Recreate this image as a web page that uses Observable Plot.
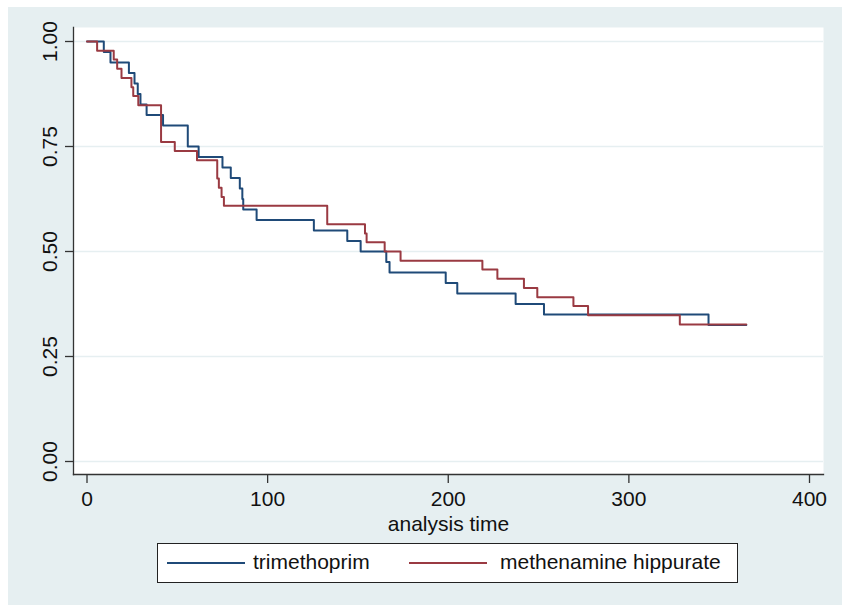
<!DOCTYPE html>
<html>
<head>
<meta charset="utf-8">
<script src="https://cdn.jsdelivr.net/npm/d3@7"></script>
<script src="https://cdn.jsdelivr.net/npm/@observablehq/plot@0.6"></script>
<style>
  html, body { margin: 0; padding: 0; background: #fff; }
  #wrap {
    position: relative; width: 842px; height: 605px; overflow: hidden;
    background: #e6eff1; box-shadow: inset 8px 7px 0 #fff;
    font-family: "Liberation Sans", Arial, sans-serif;
  }
  #wrap svg { display: block; background: transparent; }
  #legend {
    position: absolute; left: 157px; top: 543px; width: 581px; height: 40px;
    box-sizing: border-box; border: 1.5px solid #222; background: #fff;
    font-size: 21px; color: #111;
  }
  #legend .sw { position: absolute; top: 18px; height: 2px; }
  #legend .lb { position: absolute; top: 6px; line-height: 24px; white-space: nowrap; }
</style>
</head>
<body>
<div id="wrap"><div id="legend"></div></div>
<script>
// Kaplan–Meier survival estimates
const seriesNames = ["trimethoprim", "methenamine hippurate"];
const seriesColors = ["#1f4a78", "#9a3a42"];

const trimTime = [0, 9.3, 13.0, 23.2, 26.3, 28.1, 29.6, 33.0, 42.1, 55.8, 61.8, 75.0, 79.6, 84.6, 86.0, 86.5, 93.9, 125.6, 144.1, 151.5, 165.7, 167.5, 198.6, 205.0, 237.3, 253.0, 344.1, 365];
const trimSurv = [1, 0.975, 0.95, 0.925, 0.9, 0.875, 0.85, 0.825, 0.8, 0.75, 0.725, 0.7, 0.675, 0.65, 0.625, 0.6, 0.575, 0.55, 0.525, 0.5, 0.475, 0.45, 0.425, 0.4, 0.375, 0.35, 0.325, 0.325];

const methTime = [0, 5.6, 14.8, 16.7, 19.1, 24.6, 25.6, 28.4, 41.0, 48.6, 60.9, 72.1, 73.0, 74.5, 75.8, 133.0, 153.9, 154.8, 164.8, 173.6, 218.9, 227.2, 241.9, 249.3, 269.3, 277.4, 328.2, 365];
const methSurv = [1, 0.978, 0.957, 0.935, 0.913, 0.891, 0.870, 0.848, 0.761, 0.739, 0.717, 0.674, 0.652, 0.630, 0.609, 0.565, 0.543, 0.522, 0.500, 0.478, 0.457, 0.435, 0.413, 0.391, 0.370, 0.348, 0.326, 0.326];

const xTicks = [0, 100, 200, 300, 400];
const yTicks = [0, 0.25, 0.5, 0.75, 1];
const xTitle = "analysis time";

const rows = [
  ...trimTime.map((t, i) => ({t, s: trimSurv[i], g: seriesNames[0]})),
  ...methTime.map((t, i) => ({t, s: methSurv[i], g: seriesNames[1]}))
];

const axisColor = "#333";
const chart = Plot.plot({
  width: 842,
  height: 535,
  marginLeft: 73,
  marginRight: 19,
  marginTop: 27,
  marginBottom: 61,
  style: {fontFamily: "Liberation Sans, Arial, sans-serif", background: "transparent", overflow: "visible"},
  x: {domain: [0, 400], insetLeft: 13.5, insetRight: 14},
  y: {domain: [0, 1], insetTop: 14, insetBottom: 13},
  color: {domain: seriesNames, range: seriesColors},
  marks: [
    Plot.frame({fill: "#fff", stroke: null}),
    Plot.gridY(yTicks, {stroke: "#e6eff1", strokeOpacity: 1, strokeWidth: 1.5}),
    Plot.frame({anchor: "left", stroke: axisColor, strokeWidth: 1.3}),
    Plot.frame({anchor: "bottom", stroke: axisColor, strokeWidth: 1.3}),
    Plot.axisX({ticks: xTicks, tickSize: 9, tickPadding: 8, fontSize: 21, label: null, stroke: axisColor, fill: "#111", strokeWidth: 1.3}),
    Plot.axisY({ticks: yTicks, tickFormat: d3.format(".2f"), tickSize: 8, tickPadding: 9, tickRotate: -90, fontSize: 21, label: null, stroke: axisColor, fill: "#111", strokeWidth: 1.3}),
    Plot.line(rows, {x: "t", y: "s", z: "g", stroke: "g", curve: "step-after", strokeWidth: 2}),
    Plot.text([xTitle], {frameAnchor: "bottom", dy: 56, fontSize: 21, fill: "#111"})
  ]
});
const wrap = document.getElementById("wrap");
wrap.insertBefore(chart, wrap.firstChild);

const legend = document.getElementById("legend");
const items = [
  {sw: 9, lb: 95},
  {sw: 251, lb: 342}
];
seriesNames.forEach((name, i) => {
  const sw = document.createElement("div");
  sw.className = "sw";
  sw.style.left = items[i].sw + "px";
  sw.style.width = "78px";
  sw.style.background = seriesColors[i];
  legend.appendChild(sw);
  const lb = document.createElement("div");
  lb.className = "lb";
  lb.style.left = items[i].lb + "px";
  lb.textContent = name;
  legend.appendChild(lb);
});
</script>
</body>
</html>
